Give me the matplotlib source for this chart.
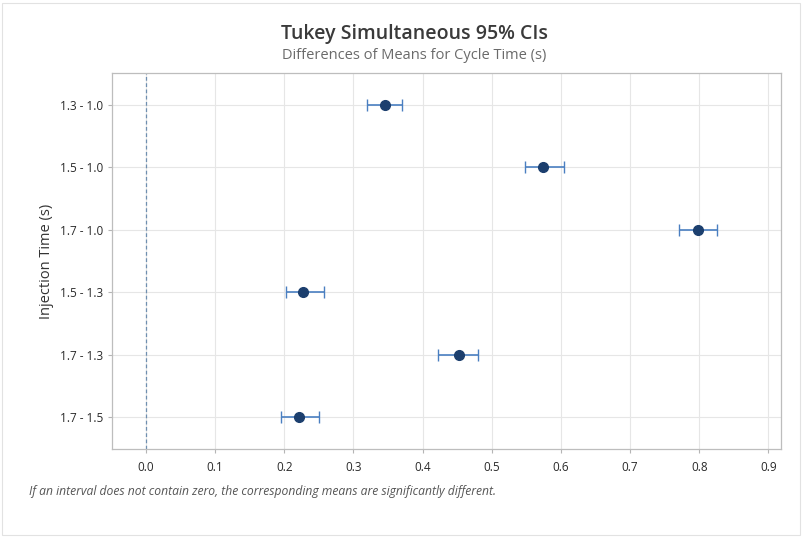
import matplotlib.pyplot as plt
import matplotlib.patches as mpatches
import numpy as np

plt.rcParams['font.family'] = ['Open Sans', 'DejaVu Sans']

labels = ["1.3 - 1.0", "1.5 - 1.0", "1.7 - 1.0", "1.5 - 1.3", "1.7 - 1.3", "1.7 - 1.5"]
diff = [0.345, 0.574, 0.798, 0.227, 0.452, 0.222]
lower = [0.319, 0.548, 0.770, 0.202, 0.422, 0.195]
upper = [0.370, 0.604, 0.825, 0.257, 0.480, 0.250]
xticks = [0.0, 0.1, 0.2, 0.3, 0.4, 0.5, 0.6, 0.7, 0.8, 0.9]

diff = np.array(diff)
err = [diff - np.array(lower), np.array(upper) - diff]
ypos = np.arange(1, len(labels) + 1)

fig = plt.figure(figsize=(8.02, 5.37), dpi=100)
ax = fig.add_axes([0.1397, 0.164, 0.834, 0.700])

# thin frame round the whole figure
fig.patches.append(mpatches.Rectangle((0.003, 0.004), 0.994, 0.99, transform=fig.transFigure,
                                      fill=False, edgecolor="#e2e2e2", linewidth=0.8))

ax.axvline(0, color="#6f8fb0", linestyle=(0, (3, 2)), linewidth=0.9, zorder=1)
ax.errorbar(diff, ypos, xerr=err, fmt="none", ecolor="#4a7fc1", elinewidth=1.2,
            capsize=4, capthick=1.0, zorder=3)
ax.plot(diff, ypos, "o", color="#1c3f6e", markersize=7, zorder=4)

ax.set_xlim(-0.049, 0.918)
ax.set_ylim(6.51, 0.487)
ax.set_xticks(xticks)
ax.set_xticklabels([f"{t:.1f}" for t in xticks])
ax.set_yticks(ypos)
ax.set_yticklabels(labels)
ax.grid(True, color="#e6e6e6", linewidth=0.8)
ax.set_axisbelow(True)
ax.tick_params(labelsize=8.5, colors="#b5b5b5", labelcolor="#2a2a2a", length=3, width=0.8)
ax.tick_params(axis="x", pad=6)
for s in ax.spines.values():
    s.set_color("#bdbdbd")
    s.set_linewidth(0.9)

ax.set_ylabel("Injection Time (s)", fontsize=10.5, color="#333333", labelpad=4)

fig.text(0.517, 0.936, "Tukey Simultaneous 95% CIs", ha="center", va="center",
         fontsize=14, fontweight="semibold", color="#3a3a3a")
fig.text(0.517, 0.897, "Differences of Means for Cycle Time (s)", ha="center", va="center",
         fontsize=10.5, color="#6a6a6a")
fig.text(0.036, 0.084, "If an interval does not contain zero, the corresponding means are significantly different.",
         ha="left", va="center", fontsize=8.7, style="italic", color="#555555")

fig.savefig("out.png", dpi=100)
